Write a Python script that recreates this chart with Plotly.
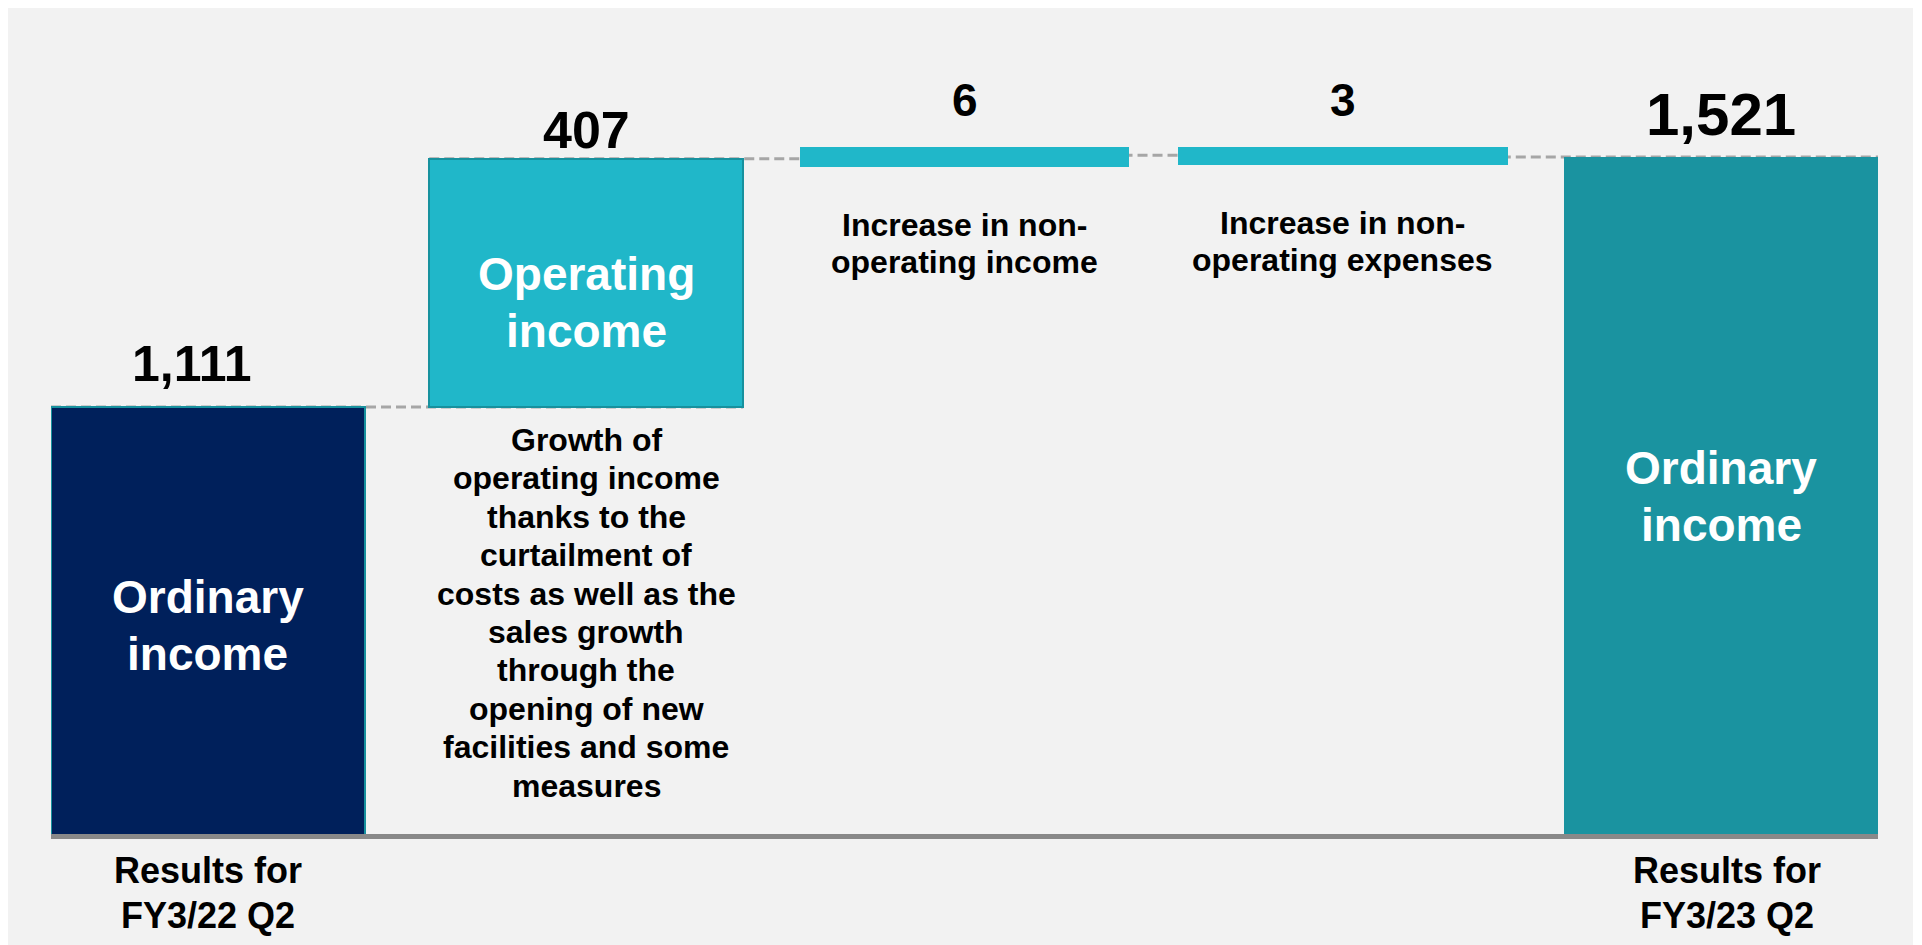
import plotly.graph_objects as go

# Ordinary income bridge, FY3/22 Q2 -> FY3/23 Q2 (JPY million)
steps = ["Results for FY3/22 Q2", "Operating income", "Non-operating income",
         "Non-operating expenses", "Results for FY3/23 Q2"]
values = [1111, 407, 6, -3, 1521]
measures = ["absolute", "relative", "relative", "relative", "total"]

inside_labels = [["Ordinary", "income"], ["Operating", "income"], None, None,
                 ["Ordinary", "income"]]
notes = [
    None,
    ["Growth of", "operating income", "thanks to the", "curtailment of",
     "costs as well as the", "sales growth", "through the", "opening of new",
     "facilities and some", "measures"],
    ["Increase in non-", "operating income"],
    ["Increase in non-", "operating expenses"],
    None,
]
axis_labels = [["Results for", "FY3/22 Q2"], None, None, None,
               ["Results for", "FY3/23 Q2"]]

fill_colors = ["#00205b", "#20b7c9", "#20b7c9", "#20b7c9", "#1a93a0"]
edge_colors = ["#17919e", "#17919e", "#20b7c9", "#20b7c9", "#1a93a0"]
edge_widths = [2, 2, 16, 16, 0]

# ---- bar geometry from the values --------------------------------------
bases, heights, tops, levels = [], [], [], []
level = 0
for v, m in zip(values, measures):
    if m in ("absolute", "total"):
        bases.append(0)
        heights.append(v)
        level = v
    else:
        bases.append(min(level, level + v))
        heights.append(abs(v))
        level = level + v
    tops.append(bases[-1] + heights[-1])
    levels.append(level)

xs = list(range(len(values)))
BAR_W = 0.83
HALF = BAR_W / 2

# ---- page geometry -------------------------------------------------------
W, H = 1922, 945
ML, MR, MT, MB = 51, 44, 20, 111
PLOT_H = H - MT - MB
PLOT_W = W - ML - MR
Y0, Y1 = 410.8, 1745.7
FONT = "Liberation Sans, Arial, Helvetica, sans-serif"


def y_px(v):
    return MT + PLOT_H - (v - Y0) * PLOT_H / (Y1 - Y0)


def paper_y(px):
    return (MT + PLOT_H - px) / PLOT_H


def paper_x(px):
    return (px - ML) / PLOT_W


def mid_from_baseline(baseline, size):
    # vertical centre of a text line box (Liberation Sans metrics)
    return baseline - 0.3465 * size


fig = go.Figure()

fig.add_trace(go.Bar(
    x=xs, y=heights, base=bases, width=BAR_W,
    marker=dict(color=fill_colors,
                line=dict(color=edge_colors, width=edge_widths)),
    hoverinfo="skip", showlegend=False,
))

shapes = [dict(type="rect", xref="paper", yref="paper",
               x0=paper_x(8), x1=paper_x(1913), y0=paper_y(945), y1=paper_y(8),
               fillcolor="#f2f2f2", line=dict(width=0), layer="below")]

# dashed connectors spanning each pair of neighbouring bars (under the bars)
for i in range(len(values) - 1):
    shapes.append(dict(
        type="line", xref="x", yref="y",
        x0=xs[i] - HALF, x1=xs[i + 1] + HALF, y0=levels[i], y1=levels[i],
        line=dict(color="#a6a6a6", width=3, dash="10px,5px"), layer="below",
    ))

annotations = []


def add_lines(x, lines, first_baseline, spacing, size, color, xshift=0):
    for k, line in enumerate(lines):
        base = first_baseline + k * spacing
        annotations.append(dict(
            x=x, xref="x", y=paper_y(mid_from_baseline(base, size)), yref="paper",
            text=line, showarrow=False, xanchor="center", yanchor="middle",
            xshift=xshift,
            font=dict(family=FONT, size=size, color=color, weight="bold"),
        ))


# value labels above each bar
value_style = [(381, 50, -16), (148, 52, 0), (116, 46, 0), (116, 46, 0), (135, 60, 0)]
for i, v in enumerate(values):
    baseline, size, xsh = value_style[i]
    annotations.append(dict(
        x=xs[i], y=tops[i], xref="x", yref="y",
        text=f"{abs(v):,}", showarrow=False, xanchor="center", yanchor="middle",
        yshift=y_px(tops[i]) - mid_from_baseline(baseline, size), xshift=xsh,
        font=dict(family=FONT, size=size, color="black", weight="bold"),
    ))

# white captions inside the large bars
inside_first = [613, 290, None, None, 484]
for i, lines in enumerate(inside_labels):
    if lines:
        add_lines(xs[i], lines, inside_first[i], 56.5, 46, "white")

# explanatory notes
note_first = [None, 451, 236, 234, None]
for i, lines in enumerate(notes):
    if lines:
        sp = 38.4 if len(lines) > 2 else 37
        add_lines(xs[i], lines, note_first[i], sp, 32, "black")

# period labels under the baseline
for i, lines in enumerate(axis_labels):
    if lines:
        add_lines(xs[i], lines, 883, 45, 36, "black", xshift=6 if i == 4 else 0)

fig.update_layout(
    width=W, height=H,
    margin=dict(l=ML, r=MR, t=MT, b=MB, pad=0),
    paper_bgcolor="white",
    plot_bgcolor="rgba(0,0,0,0)",
    bargap=0,
    xaxis=dict(range=[-HALF, len(values) - 1 + HALF], showgrid=False,
               zeroline=False, showticklabels=False, ticks="",
               showline=True, linecolor="#898989", linewidth=5, fixedrange=True),
    yaxis=dict(range=[Y0, Y1], showgrid=False, zeroline=False,
               showticklabels=False, ticks="", showline=False, fixedrange=True),
    shapes=shapes,
    annotations=annotations,
)

fig.write_html("out.html", config={"displayModeBar": False})
